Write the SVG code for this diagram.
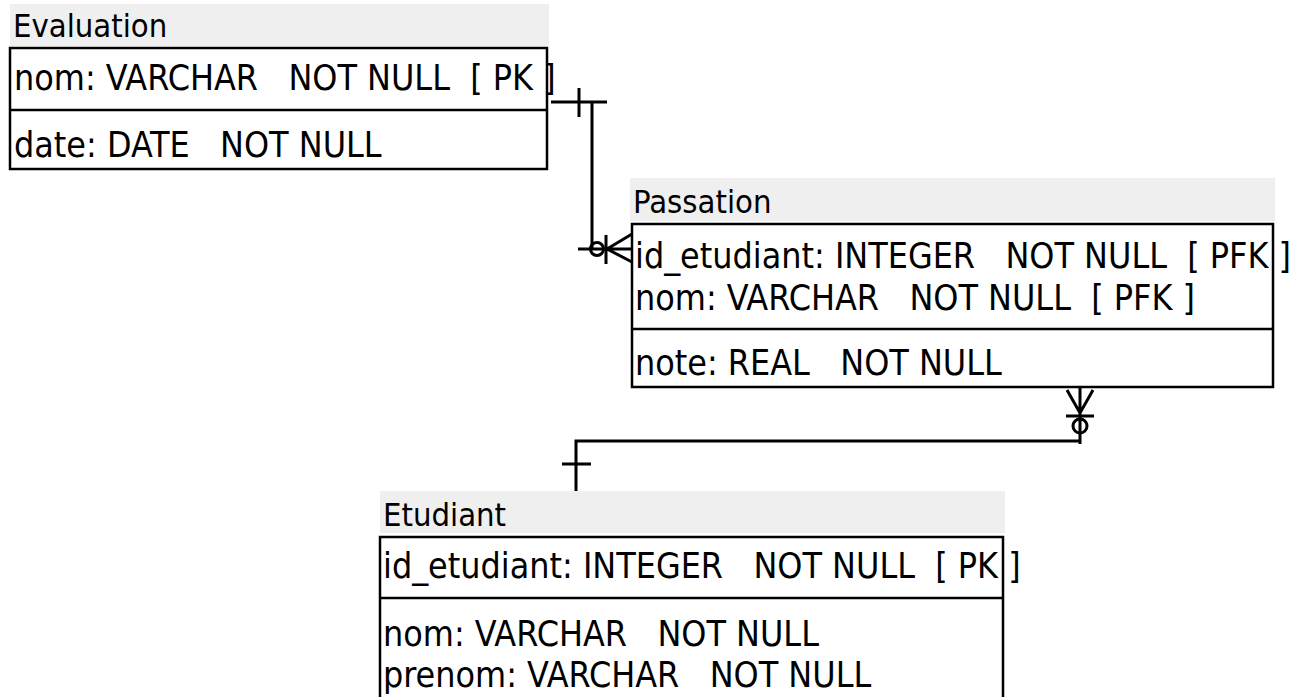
<svg xmlns="http://www.w3.org/2000/svg" width="1299" height="697" viewBox="0 0 1299 697">
<style>
.hdr{fill:#efefef}
.box{fill:#fff;stroke:#000;stroke-width:2.5}
.div{stroke:#000;stroke-width:2.5}
.t{font-family:"DejaVu Sans Condensed","DejaVu Sans",sans-serif;font-stretch:condensed;fill:#000;white-space:pre}
.title{font-size:32.5px}
.row{font-size:35.5px}
.con{fill:none;stroke:#000;stroke-width:3}
</style>
<rect width="1299" height="697" fill="#fff"/>
<g id="evaluation">
<rect class="hdr" x="10" y="4" width="539" height="42"/>
<text class="t title" x="13" y="37">Evaluation</text>
<rect class="box" x="10" y="48" width="537" height="121"/>
<line class="div" x1="10" y1="110" x2="547" y2="110"/>
<text class="t row" x="14" y="90" xml:space="preserve">nom: VARCHAR   NOT NULL  [ PK ]</text>
<text class="t row" x="14" y="157" xml:space="preserve">date: DATE   NOT NULL</text>
</g>
<g id="passation">
<rect class="hdr" x="630" y="178" width="645" height="43"/>
<text class="t title" x="633" y="213">Passation</text>
<rect class="box" x="632" y="224" width="641" height="163"/>
<line class="div" x1="632" y1="329" x2="1273" y2="329"/>
<text class="t row" x="635" y="268" xml:space="preserve">id_etudiant: INTEGER   NOT NULL  [ PFK ]</text>
<text class="t row" x="635" y="310" xml:space="preserve">nom: VARCHAR   NOT NULL  [ PFK ]</text>
<text class="t row" x="635" y="375" xml:space="preserve">note: REAL   NOT NULL</text>
</g>
<g id="etudiant">
<rect class="hdr" x="380" y="491" width="625" height="42"/>
<text class="t title" x="383" y="526">Etudiant</text>
<rect class="box" x="380" y="537" width="623" height="170"/>
<line class="div" x1="380" y1="598" x2="1003" y2="598"/>
<text class="t row" x="383" y="578" xml:space="preserve">id_etudiant: INTEGER   NOT NULL  [ PK ]</text>
<text class="t row" x="383" y="646" xml:space="preserve">nom: VARCHAR   NOT NULL</text>
<text class="t row" x="383" y="687" xml:space="preserve">prenom: VARCHAR   NOT NULL</text>
</g>
<g id="connectors">
<path class="con" d="M551,102 H607 M579,88 V117 M592,102 V249 M578,249 H632 M606,235 V264 M607,249 L632,234 M607,249 L632,262"/>
<circle class="con" cx="597" cy="249" r="6.5"/>
<path class="con" d="M1080,387 V444 M1067,390 L1080,413 L1093,390 M1066,416 H1094 M1080,441 H576 V491 M562,464 H591"/>
<circle class="con" cx="1080" cy="426" r="7"/>
</g>
</svg>
